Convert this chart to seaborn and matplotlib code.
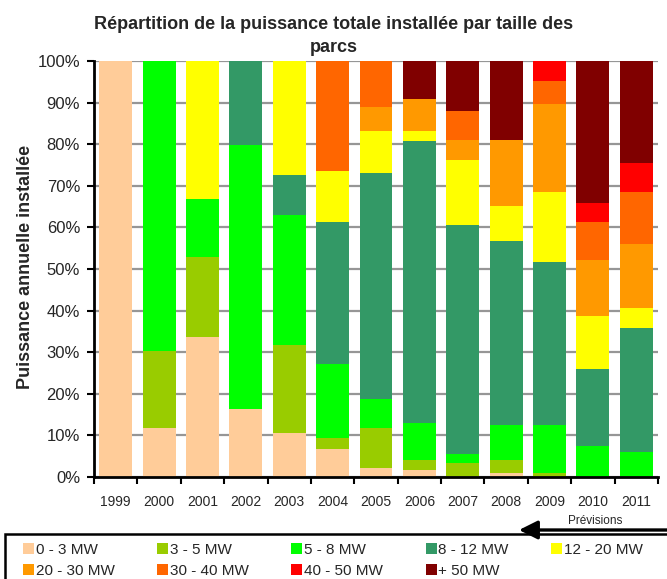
import matplotlib
matplotlib.use("Agg")
import matplotlib.pyplot as plt
from matplotlib.patches import Patch, Rectangle
from matplotlib.ticker import FixedLocator
import numpy as np
import seaborn as sns

# Years on the x axis
years = ["1999", "2000", "2001", "2002", "2003", "2004", "2005",
         "2006", "2007", "2008", "2009", "2010", "2011"]

# Wind-farm size classes and their colours
size_classes = ["0 - 3 MW", "3 - 5 MW", "5 - 8 MW", "8 - 12 MW", "12 - 20 MW",
                "20 - 30 MW", "30 - 40 MW", "40 - 50 MW", "+ 50 MW"]
class_colors = ["#FFCC99", "#99CC00", "#00FF00", "#339966", "#FFFF00",
                "#FF9900", "#FF6600", "#FF0000", "#800000"]

# Share (%) of the yearly installed capacity for each size class
mw_0_3 = [100.0, 11.8, 33.7, 16.3, 10.5, 6.7, 2.1, 1.6, 0.0, 1.0, 0.0, 0.0, 0.0]
mw_3_5 = [0.0, 18.5, 19.2, 0.0, 21.2, 2.7, 9.7, 2.5, 3.3, 3.1, 1.0, 0.0, 0.0]
mw_5_8 = [0.0, 69.7, 14.0, 63.6, 31.4, 17.8, 6.9, 8.8, 2.2, 8.3, 11.4, 7.5, 6.0]
mw_8_12 = [0.0, 0.0, 0.0, 20.1, 9.6, 34.2, 54.3, 67.8, 55.1, 44.4, 39.3, 18.4, 29.7]
mw_12_20 = [0.0, 0.0, 33.1, 0.0, 27.3, 12.1, 10.1, 2.4, 15.5, 8.4, 16.7, 12.8, 4.9]
mw_20_30 = [0.0, 0.0, 0.0, 0.0, 0.0, 0.0, 5.8, 7.7, 5.0, 15.9, 21.2, 13.5, 15.5]
mw_30_40 = [0.0, 0.0, 0.0, 0.0, 0.0, 26.5, 11.1, 0.0, 7.0, 0.0, 5.7, 9.2, 12.3]
mw_40_50 = [0.0, 0.0, 0.0, 0.0, 0.0, 0.0, 0.0, 0.0, 0.0, 0.0, 4.7, 4.4, 7.0]
mw_50_plus = [0.0, 0.0, 0.0, 0.0, 0.0, 0.0, 0.0, 9.2, 11.9, 18.9, 0.0, 34.2, 24.6]

shares = [mw_0_3, mw_3_5, mw_5_8, mw_8_12, mw_12_20,
          mw_20_30, mw_30_40, mw_40_50, mw_50_plus]

y_ticks = list(range(0, 101, 10))
y_tick_labels = [f"{v}%" for v in y_ticks]

sns.set_style("white")
plt.rcParams["font.family"] = ["Liberation Sans", "DejaVu Sans"]

W, H = 667, 579
fig = plt.figure(figsize=(W / 100, H / 100), dpi=100)
ax = fig.add_axes([94 / W, 1 - 477 / H, (658 - 94) / W, (477 - 61) / H])

# Stacked bars: draw cumulative totals from the top class down,
# so each lower class paints over the one above it.
cum = np.cumsum(np.array(shares), axis=0)
for i in reversed(range(len(size_classes))):
    sns.barplot(x=years, y=cum[i], order=years, color=class_colors[i],
                saturation=1, width=0.76, linewidth=0, errorbar=None, ax=ax)

ax.set_xlim(-0.5, len(years) - 0.5)
ax.set_ylim(0, 100)
ax.set_xlabel("")
ax.set_ylabel("")

ax.set_yticks(y_ticks)
ax.set_yticklabels(y_tick_labels)
ax.yaxis.grid(True, color="#969696", linewidth=1.6)
ax.xaxis.grid(False)
ax.set_axisbelow(True)

for side in ("top", "right"):
    ax.spines[side].set_visible(False)
for side in ("left", "bottom"):
    ax.spines[side].set_color("black")
    ax.spines[side].set_linewidth(2)

ax.tick_params(axis="y", left=True, direction="out", length=5, width=1.5,
               color="black", labelsize=12, pad=5)
ax.set_xticks(range(len(years)))
ax.set_xticklabels(years)
ax.tick_params(axis="x", which="major", bottom=True, length=0, pad=13,
               labelsize=10)
ax.xaxis.set_minor_locator(FixedLocator(np.arange(-0.5, len(years), 1.0)))
ax.tick_params(axis="x", which="minor", bottom=True, direction="out",
               length=5, width=1.5, color="black")

fig.text(0.5, 1 - 16 / H,
         "Répartition de la puissance totale installée par taille des\nparcs",
         ha="center", va="top", fontsize=13, fontweight="bold", linespacing=1.5)

fig.text(25.5 / W, 1 - 267 / H, "Puissance annuelle installée", rotation=90,
         ha="center", va="center", fontsize=13, fontweight="bold")

# Forecast marker below the axis
fig.text(595 / W, 1 - 521 / H, "Prévisions", ha="center", va="center",
         fontsize=8.5)
ax.annotate("", xy=(519 / W, 1 - 530 / H), xytext=(1.01, 1 - 530 / H),
            xycoords="figure fraction", textcoords="figure fraction",
            arrowprops=dict(arrowstyle="-|>,head_length=0.8,head_width=0.4",
                            mutation_scale=14, lw=2.4, color="black",
                            shrinkA=0, shrinkB=0))

# Legend (row-major order across 5 columns) with an open box around it
order = [0, 5, 1, 6, 2, 7, 3, 8, 4]
handles = [Patch(facecolor=class_colors[k], edgecolor="none") for k in order]
labels = [size_classes[k] for k in order]
fig.legend(handles, labels, ncol=5, loc="upper left",
           bbox_to_anchor=(23 / W, 1 - 543 / H, (643 - 23) / W, 0),
           mode="expand", frameon=False, borderpad=0, borderaxespad=0,
           fontsize=11, handlelength=0.72, handleheight=0.72,
           handletextpad=0.12, labelspacing=0.45)
fig.add_artist(Rectangle((5 / W, -0.1), 1.2, (1 - 534 / H) + 0.1,
                         transform=fig.transFigure, fill=False,
                         edgecolor="black", linewidth=1.8, clip_on=False))

fig.savefig("out.png", dpi=100)
